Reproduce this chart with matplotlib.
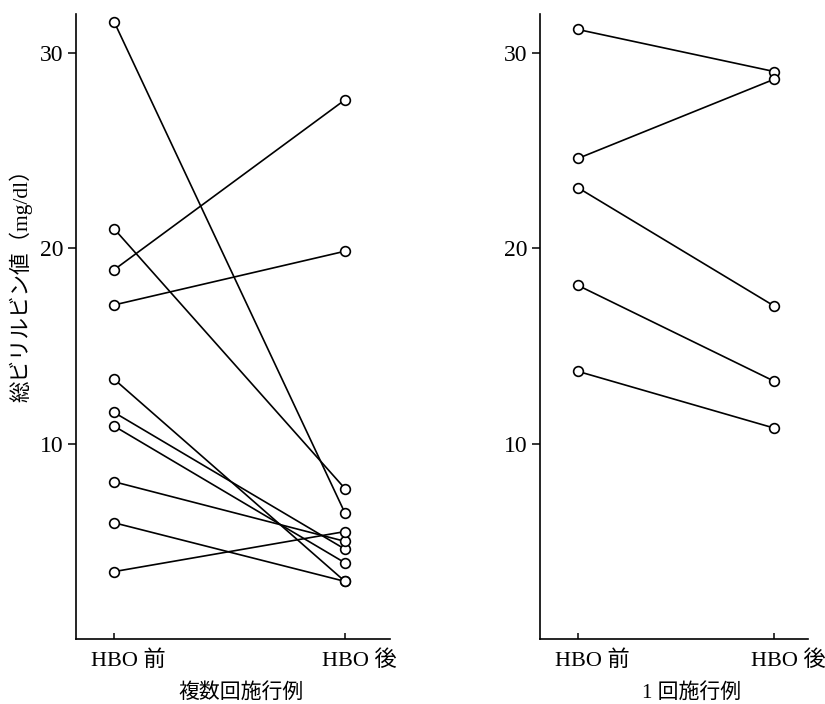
import matplotlib
matplotlib.use('Agg')
import matplotlib.pyplot as plt
from matplotlib.transforms import ScaledTranslation

plt.rcParams['font.family'] = ['Liberation Serif', 'Noto Sans CJK JP']

# 複数回施行例 (multiple sessions)
multi_pre = [31.6, 21.0, 18.9, 17.1, 13.3, 11.6, 10.9, 8.05, 5.95, 3.45]
multi_post = [6.45, 7.7, 27.6, 19.85, 2.95, 4.6, 3.9, 5.0, 2.95, 5.5]

# 1回施行例 (single session)
single_pre = [31.2, 24.6, 23.1, 18.1, 13.7]
single_post = [29.05, 28.65, 17.05, 13.2, 10.8]

xlabels = ['HBO 前', 'HBO 後']
yticks = [10, 20, 30]

fg = plt.figure(figsize=(8.25, 7.04), dpi=100)
axl = fg.add_axes([0.0921, 0.0923, 0.3806, 0.888])
axr = fg.add_axes([0.6545, 0.0923, 0.3248, 0.888])

def draw_panel(ax, pre, post, xlim):
    for a, b in zip(pre, post):
        ax.plot([0, 1], [a, b], color='black', lw=1.2,
                marker='o', markersize=7, markerfacecolor='white',
                markeredgecolor='black', markeredgewidth=1.2, zorder=3)
    ax.set_xlim(*xlim)
    ax.set_ylim(0, 32)
    ax.set_xticks([0, 1])
    ax.set_xticklabels(xlabels, fontsize=16)
    ax.set_yticks(yticks)
    ax.set_yticklabels([str(v) for v in yticks], fontsize=17)
    for s in ('top', 'right'):
        ax.spines[s].set_visible(False)
    for s in ('left', 'bottom'):
        ax.spines[s].set_linewidth(1.2)
    ax.tick_params(axis='x', direction='in', length=4, width=1.1, pad=8)
    ax.tick_params(axis='y', direction='out', length=6, width=1.1, pad=3)
    # "HBO" is centred on the tick, the kanji hangs to the right
    for lab in ax.get_xticklabels():
        lab.set_transform(lab.get_transform() + ScaledTranslation(0.14, 0, fg.dpi_scale_trans))

draw_panel(axl, multi_pre, multi_post, (-0.165, 1.195))
draw_panel(axr, single_pre, single_post, (-0.194, 1.173))

fg.text(21 / 825, 1 - 280 / 704, '総ビリルビン値（mg/dl）', rotation=90,
        ha='center', va='center', fontsize=15.5)
fg.text(241 / 825, 1 - 693 / 704, '複数回施行例', ha='center', va='center', fontsize=15)
fg.text(692 / 825, 1 - 693 / 704, '1 回施行例', ha='center', va='center', fontsize=15)

fg.savefig('out.png', dpi=100)
